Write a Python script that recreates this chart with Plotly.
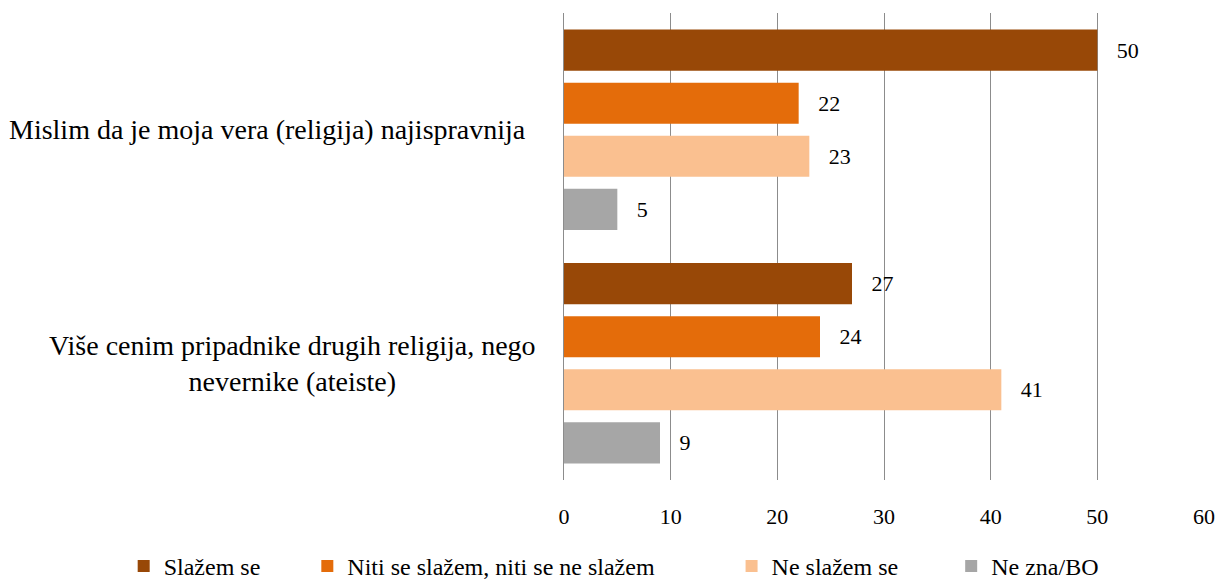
import plotly.graph_objects as go

# statements (top to bottom)
categories = [
    "Mislim da je moja vera (religija) najispravnija",
    "Više cenim pripadnike drugih religija, nego<br>nevernike (ateiste)",
]
series_names = ["Slažem se", "Niti se slažem, niti se ne slažem", "Ne slažem se", "Ne zna/BO"]
slazem = [50, 27]
niti = [22, 24]
ne_slazem = [23, 41]
ne_zna = [5, 9]
x_ticks = [0, 10, 20, 30, 40, 50, 60]

colors = ["#984807", "#E46C0A", "#FAC090", "#A6A6A6"]
legend_pad = [7, 12, 8, 0]     # extra spacing after each legend entry (nbsp count)
label_shift = [-36, -26]       # category label offsets from the axis, px
font = "Liberation Serif"
NB = "\u00a0"

fig = go.Figure()
for name, vals, col, pad in zip(series_names, [slazem, niti, ne_slazem, ne_zna], colors, legend_pad):
    fig.add_trace(go.Bar(
        y=categories, x=vals, name=name + NB * pad, orientation="h",
        marker=dict(color=col, line=dict(width=0)),
        texttemplate=NB * 3 + "%{x}", textposition="outside",
        textfont=dict(family=font, size=22, color="black"),
        cliponaxis=False,
    ))

# category labels, centred multi-line like the original
for c, sh in zip(categories, label_shift):
    fig.add_annotation(
        x=0, xref="paper", xshift=sh, xanchor="right",
        y=c, yref="y", text=c, showarrow=False, align="center",
        font=dict(family=font, size=28, color="black"),
    )

fig.update_layout(
    width=1219, height=582,
    margin=dict(l=564, r=15, t=13, b=102, autoexpand=False),
    paper_bgcolor="white", plot_bgcolor="white",
    barmode="group", bargap=0.09, bargroupgap=0.226,
    font=dict(family=font, size=22, color="black"),
    showlegend=True,
    legend=dict(
        orientation="h", x=-0.688, xref="paper", xanchor="left",
        y=-0.185, yref="paper", yanchor="middle",
        traceorder="normal", font=dict(family=font, size=24),
        itemwidth=30,
    ),
)
fig.update_xaxes(
    range=[0, 60], tickvals=x_ticks, showgrid=True, gridcolor="#8C8C8C", gridwidth=1,
    zeroline=False, showline=False, ticks="", ticklabelstandoff=21,
    tickfont=dict(family=font, size=22),
)
fig.update_yaxes(
    autorange="reversed", showticklabels=False, showgrid=False, zeroline=False,
    showline=True, linecolor="#8C8C8C", linewidth=1,
)

# drop the default page margin so the figure fills the window exactly
fig.write_html(
    "out.html",
    config={"displayModeBar": False},
    post_script="document.body.style.margin='0';document.body.style.overflow='hidden';",
)
